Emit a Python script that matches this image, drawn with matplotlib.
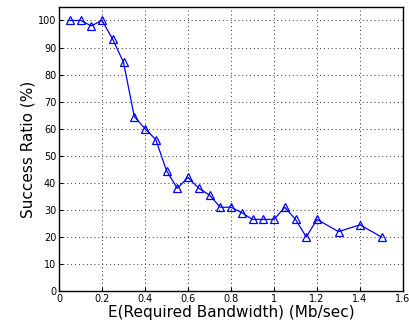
import matplotlib

matplotlib.use("Agg")
import matplotlib.pyplot as plt

# E(required bandwidth) in Mb/sec vs success ratio in percent
bandwidth = [0.05, 0.1, 0.15, 0.2, 0.25, 0.3, 0.35, 0.4, 0.45, 0.5, 0.55, 0.6,
             0.65, 0.7, 0.75, 0.8, 0.85, 0.9, 0.95, 1.0, 1.05, 1.1, 1.15, 1.2,
             1.3, 1.4, 1.5]
success = [100, 100, 98, 100, 93, 84.5, 64.5, 60, 56, 44.5, 38, 42,
           38, 35.5, 31, 31, 29, 26.5, 26.5, 26.5, 31, 26.5, 20, 26.5,
           22, 24.5, 20]

x_ticks = [0, 0.2, 0.4, 0.6, 0.8, 1, 1.2, 1.4, 1.6]
y_ticks = list(range(0, 101, 10))

fig = plt.figure(figsize=(4.1, 3.29), dpi=100)
ax = fig.add_axes([0.144, 0.115, 0.839, 0.864])

ax.plot(bandwidth, success, color="blue", linewidth=0.9, marker="^",
        markersize=5.8, markerfacecolor="none", markeredgecolor="blue",
        markeredgewidth=0.9)

ax.set_xlim(0, 1.6)
ax.set_ylim(0, 105)
ax.set_xticks(x_ticks)
ax.set_xticklabels(["0", "0.2", "0.4", "0.6", "0.8", "1", "1.2", "1.4", "1.6"])
ax.set_yticks(y_ticks)
ax.tick_params(direction="in", labelsize=7, length=3, pad=2)
ax.grid(True, linestyle=(0, (1, 3)), color="#333333", linewidth=0.7)
for s in ax.spines.values():
    s.set_linewidth(1.0)

ax.set_xlabel("E(Required Bandwidth) (Mb/sec)", fontsize=11, labelpad=1)
ax.set_ylabel("Success Ratio (%)", fontsize=11, labelpad=2)

fig.savefig("out.png", dpi=100)
